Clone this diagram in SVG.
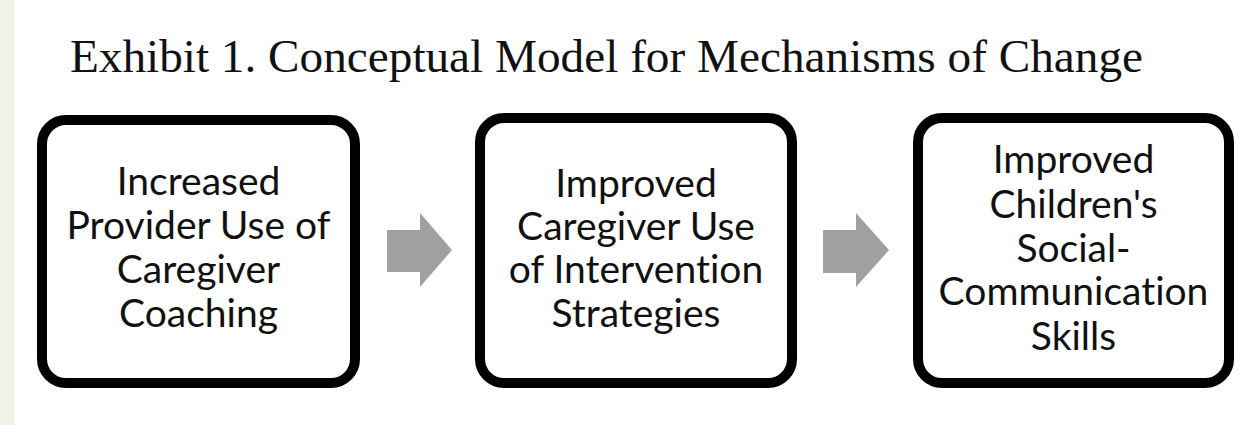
<svg xmlns="http://www.w3.org/2000/svg" width="1247" height="425" viewBox="0 0 1247 425">
<style>
.box{fill:#fff;stroke:#000;stroke-width:10}
.lbl{font-family:Lato,"Open Sans","DejaVu Sans",sans-serif;font-size:39px;fill:#111;text-anchor:middle;font-variant-ligatures:none}
.arrow{fill:#a0a0a0}
.title{font-family:"Liberation Serif","Times New Roman",serif;font-size:47px;fill:#111}
</style>
<rect x="0" y="0" width="1247" height="425" fill="#fff"/>
<rect x="0" y="0" width="15" height="425" fill="#f2f3e6"/>
<text class="title" x="70" y="72" textLength="1073" lengthAdjust="spacingAndGlyphs">Exhibit 1. Conceptual Model for Mechanisms of Change</text>
<g id="node1">
<rect class="box" x="42" y="120" width="313" height="263" rx="24"/>
<text class="lbl"><tspan x="198.5" y="195">Increased</tspan><tspan x="198.5" y="239">Provider Use of</tspan><tspan x="198.5" y="283">Caregiver</tspan><tspan x="198.5" y="327">Coaching</tspan></text>
</g>
<g id="node2">
<rect class="box" x="480" y="118" width="312" height="265" rx="24"/>
<text class="lbl"><tspan x="636" y="197">Improved</tspan><tspan x="636" y="240">Caregiver Use</tspan><tspan x="636" y="283">of Intervention</tspan><tspan x="636" y="327">Strategies</tspan></text>
</g>
<g id="node3">
<rect class="box" x="918" y="118" width="311" height="265" rx="24"/>
<text class="lbl"><tspan x="1073.5" y="173">Improved</tspan><tspan x="1073.5" y="218">Children's</tspan><tspan x="1073.5" y="262">Social-</tspan><tspan x="1073.5" y="305">Communication</tspan><tspan x="1073.5" y="350">Skills</tspan></text>
</g>
<g id="connectors">
<polygon class="arrow" points="387,230 420,230 420,213 452,250 420,287 420,272 387,272"/>
<polygon class="arrow" points="823,230 856,230 856,213 889,250 856,287 856,273 823,273"/>
</g>
</svg>
